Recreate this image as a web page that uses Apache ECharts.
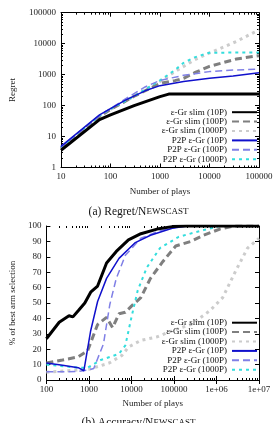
<!DOCTYPE html>
<html>
<head>
<meta charset="utf-8">
<script src="https://cdn.jsdelivr.net/npm/echarts@6/dist/echarts.min.js"></script>
<style>html,body{margin:0;padding:0;background:#fff}#c{width:277px;height:423px}</style>
</head>
<body>
<div id="c"></div>
<script>
// ---------- Data: Regret (top chart) ----------
const seriesNames = ['ε-Gr slim (10P)', 'ε-Gr slim (100P)', 'ε-Gr slim (1000P)', 'P2P ε-Gr (10P)', 'P2P ε-Gr (100P)', 'P2P ε-Gr (1000P)'];
const regretXTicks = [10, 100, 1000, 10000, 100000];
const regretYTicks = [1, 10, 100, 1000, 10000, 100000];

const regSlim10X = [10, 60, 100, 300, 1000, 1500, 100000];
const regSlim10Y = [3.6, 35, 50, 100, 195, 235, 235];
const regSlim100X = [10, 60, 100, 300, 1000, 2000, 3000, 5000, 10000, 35000, 100000];
const regSlim100Y = [4.2, 45, 75, 200, 520, 640, 760, 1150, 1850, 3200, 4100];
const regSlim1000X = [10, 60, 100, 300, 1000, 2000, 5000, 10000, 35000, 100000];
const regSlim1000Y = [4.2, 45, 75, 200, 600, 1250, 3000, 5000, 11800, 28000];
const regP2p10X = [10, 60, 100, 200, 500, 1000, 3000, 10000, 30000, 100000];
const regP2p10Y = [4.8, 50, 80, 150, 300, 440, 600, 760, 900, 1150];
const regP2p100X = [10, 60, 100, 200, 500, 1000, 3000, 10000, 30000, 100000];
const regP2p100Y = [4.5, 47, 80, 165, 400, 650, 950, 1250, 1400, 1500];
const regP2p1000X = [10, 60, 100, 300, 1000, 2000, 3000, 5000, 8000, 10000, 100000];
const regP2p1000Y = [4.5, 47, 78, 200, 650, 1400, 2400, 3600, 4600, 5100, 5200];

// ---------- Data: Accuracy (bottom chart) ----------
const accXTicks = [100, 1000, 10000, 100000, 1e6, 1e7];
const accYTicks = [0, 10, 20, 30, 40, 50, 60, 70, 80, 90, 100];

const accSlim10X = [100, 200, 340, 420, 560, 800, 1100, 1600, 2600, 4400, 8500, 16700, 40000, 91000, 200000, 1e7];
const accSlim10Y = [26.8, 37.5, 41.7, 41, 45, 50, 57, 61, 76, 83.5, 91, 95, 98, 99.6, 100, 100];
const accSlim100X = [100, 240, 560, 930, 1600, 2600, 3600, 5100, 7200, 10000, 16600, 28000, 55000, 110000, 250000, 500000, 1.2e6, 2.5e6, 1e7];
const accSlim100Y = [11, 13, 15, 19, 36, 40.7, 34, 43, 44, 48, 53.5, 66, 77, 87, 90, 94, 98, 100, 100];
const accSlim1000X = [100, 1000, 3000, 6000, 8500, 16600, 40000, 91000, 250000, 700000, 1.4e6, 2.8e6, 5.4e6, 1e7];
const accSlim1000Y = [5, 7, 11, 16, 21.4, 25.7, 28, 32, 36, 45, 53.5, 70.6, 85.7, 92];
const accP2p10X = [100, 240, 560, 760, 1100, 1600, 2600, 5100, 12000, 28000, 91000, 200000, 1e7];
const accP2p10Y = [11, 9.6, 8, 6, 32, 51, 66, 79, 89, 94, 98.5, 100, 100];
const accP2p100X = [100, 560, 930, 1300, 2200, 3100, 4400, 7200, 16600, 47000, 130000, 300000, 1e7];
const accP2p100Y = [5.3, 5.5, 6.4, 7.5, 23.5, 49, 66, 81, 92, 97, 99.6, 100, 100];
const accP2p1000X = [100, 560, 930, 1900, 5100, 7200, 10000, 14000, 23000, 47000, 130000, 500000, 1.2e6, 1e7];
const accP2p1000Y = [10, 8, 8, 13, 17, 22.5, 40.7, 58, 73, 85.7, 93, 97.4, 100, 100];

// ---------- Build ----------
function pairs(xs, ys) { return xs.map((x, i) => [x, ys[i]]); }
const FONT = 'Liberation Serif';
const styles = [
  { color: '#000000', width: 3, type: 'solid' },
  { color: '#7f7f7f', width: 3, type: [7, 4] },
  { color: '#cccccc', width: 3, type: [3, 4] },
  { color: '#1010cc', width: 1.5, type: 'solid' },
  { color: '#8080e6', width: 1.5, type: [7, 4] },
  { color: '#33dddd', width: 2, type: [3, 4] }
];
const regretData = [
  pairs(regSlim10X, regSlim10Y), pairs(regSlim100X, regSlim100Y), pairs(regSlim1000X, regSlim1000Y),
  pairs(regP2p10X, regP2p10Y), pairs(regP2p100X, regP2p100Y), pairs(regP2p1000X, regP2p1000Y)
];
const accData = [
  pairs(accSlim10X, accSlim10Y), pairs(accSlim100X, accSlim100Y), pairs(accSlim1000X, accSlim1000Y),
  pairs(accP2p10X, accP2p10Y), pairs(accP2p100X, accP2p100Y), pairs(accP2p1000X, accP2p1000Y)
];
const order = [2, 1, 5, 4, 3, 0]; // drawing order
const series = [];
[regretData, accData].forEach((set, g) => {
  order.forEach(i => {
    series.push({
      name: seriesNames[i], type: 'line', xAxisIndex: g, yAxisIndex: g,
      data: set[i], symbol: 'none', smooth: false, animation: false,
      lineStyle: { color: styles[i].color, width: styles[i].width, type: styles[i].type },
      itemStyle: { color: styles[i].color }, z: 2
    });
  });
});

function fmtLog(v) {
  const e = Math.round(Math.log10(v));
  const r = Math.pow(10, e);
  if (r >= 1e6) return '1e+0' + e;
  return String(r);
}
// minor tick positions (2..9 x 10^k) between the log axis bounds
function minorLog(lo, hi) {
  const out = [];
  for (let d = lo; d < hi; d *= 10) for (let m = 2; m <= 9; m++) out.push(d * m);
  return out;
}
const lab = { fontFamily: FONT, fontSize: 9, color: '#222' };
const axLine = { show: true, lineStyle: { color: '#000', width: 1 } };
const tick = { show: true, inside: true, length: 4, lineStyle: { color: '#000' } };

function legendFor(top) {
  return {
    orient: 'vertical', right: 19, top: top, align: 'right',
    itemWidth: 25, itemHeight: 8, itemGap: 0,
    itemStyle: { opacity: 0 },
    data: seriesNames,
    textStyle: { fontFamily: FONT, fontSize: 9, lineHeight: 9.4, height: 9.4, color: '#111' },
    selectedMode: false, padding: 0
  };
}
function minorAxis(type, min, max, grid, pos) {
  return { type: 'log', logBase: 10, min: min, max: max, gridIndex: grid, position: pos,
    axisLine: { show: false }, splitLine: { show: false }, axisLabel: { show: false },
    axisTick: { show: true, inside: true, length: 2, customValues: minorLog(min, max), lineStyle: { color: '#000' } } };
}
const mirror = (extra) => Object.assign({ axisLine: axLine, axisTick: tick, splitLine: { show: false }, axisLabel: { show: false } }, extra);

const option = {
  backgroundColor: '#fff',
  animation: false,
  grid: [
    { left: 49, right: 18, top: 12.7, height: 154.8 },
    { left: 32.5, right: 18, top: 226, height: 154 }
  ],
  legend: [legendFor(107.5), legendFor(318)],
  xAxis: [
    { type: 'log', logBase: 10, min: 10, max: 100000, gridIndex: 0,
      name: 'Number of plays', nameLocation: 'middle', nameGap: 19.5,
      nameTextStyle: { fontFamily: FONT, fontSize: 9, color: '#222' },
      axisLine: axLine, axisTick: tick, splitLine: { show: false },
      axisLabel: Object.assign({ margin: 5, formatter: fmtLog }, lab) },
    { type: 'log', logBase: 10, min: 100, max: 1e7, gridIndex: 1,
      name: 'Number of plays', nameLocation: 'middle', nameGap: 19.5,
      nameTextStyle: { fontFamily: FONT, fontSize: 9, color: '#222' },
      axisLine: axLine, axisTick: tick, splitLine: { show: false },
      axisLabel: Object.assign({ margin: 5, formatter: fmtLog }, lab) },
    mirror({ type: 'log', logBase: 10, min: 10, max: 100000, gridIndex: 0, position: 'top' }),
    mirror({ type: 'log', logBase: 10, min: 100, max: 1e7, gridIndex: 1, position: 'top' }),
    minorAxis('log', 10, 100000, 0, 'bottom'),
    minorAxis('log', 10, 100000, 0, 'top'),
    minorAxis('log', 100, 1e7, 1, 'bottom'),
    minorAxis('log', 100, 1e7, 1, 'top')
  ],
  yAxis: [
    { type: 'log', logBase: 10, min: 1, max: 100000, gridIndex: 0,
      name: 'Regret', nameLocation: 'middle', nameGap: 44, nameRotate: 90,
      nameTextStyle: { fontFamily: FONT, fontSize: 9, color: '#222' },
      axisLine: axLine, axisTick: tick, splitLine: { show: false },
      axisLabel: Object.assign({ margin: 5, formatter: fmtLog }, lab) },
    { type: 'value', min: 0, max: 100, interval: 10, gridIndex: 1,
      name: '% of best arm selection', nameLocation: 'middle', nameGap: 28, nameRotate: 90,
      nameTextStyle: { fontFamily: FONT, fontSize: 9, color: '#222' },
      axisLine: axLine, axisTick: tick, splitLine: { show: false },
      axisLabel: Object.assign({ margin: 5 }, lab) },
    mirror({ type: 'log', logBase: 10, min: 1, max: 100000, gridIndex: 0, position: 'right' }),
    mirror({ type: 'value', min: 0, max: 100, interval: 10, gridIndex: 1, position: 'right' }),
    minorAxis('log', 1, 100000, 0, 'left'),
    minorAxis('log', 1, 100000, 0, 'right')
  ],
  graphic: [
    { type: 'text', left: 'center', top: 206,
      style: { text: '{a|(a) Regret/N}{b|EWSCAST}', rich: {
        a: { fontFamily: FONT, fontSize: 11.5, fill: '#111' },
        b: { fontFamily: FONT, fontSize: 9, fill: '#111' } } } },
    { type: 'text', left: 'center', top: 417,
      style: { text: '{a|(b) Accuracy/N}{b|EWSCAST}', rich: {
        a: { fontFamily: FONT, fontSize: 11.5, fill: '#111' },
        b: { fontFamily: FONT, fontSize: 9, fill: '#111' } } } }
  ],
  series: series
};
const chart = echarts.init(document.getElementById('c'), null, { renderer: 'canvas' });
chart.setOption(option);
</script>
</body>
</html>
